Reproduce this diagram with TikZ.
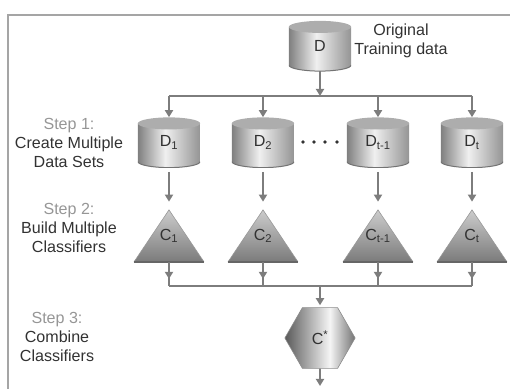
\documentclass[tikz,border=0pt]{standalone}
\usepackage{fontspec}
\setmainfont{Liberation Sans}
\usetikzlibrary{arrows.meta}
\usetikzlibrary{shapes.geometric}
\usetikzlibrary{decorations.markings}

\definecolor{linegray}{RGB}{125,125,125}
\definecolor{framegray}{RGB}{165,165,165}
\definecolor{textgray}{RGB}{50,50,50}
\definecolor{stepgray}{RGB}{150,150,150}

\pgfdeclarehorizontalshading{cylmetal}{100bp}{color(0bp)=(black!50); color(25bp)=(black!50); color(47bp)=(black!6); color(75bp)=(black!42); color(100bp)=(black!42)}
\pgfdeclarehorizontalshading{hexmetal}{100bp}{color(0bp)=(black!65); color(25bp)=(black!65); color(57bp)=(black!4); color(75bp)=(black!55); color(100bp)=(black!55)}

\tikzset{
	conn/.style = {color=linegray, line width=1.8pt},
	tip/.style = {-{Triangle[width=8pt,length=7pt]}},
	midtip/.style = {postaction={decorate}, decoration={markings, mark=at position 0.7 with {\arrow{Triangle[width=8pt,length=7pt]}}}},
	cyl/.style = {minimum width=62pt, minimum height=50pt, inner sep=0pt,
		path picture={
			\shade [shading=cylmetal] ([yshift=-6pt]path picture bounding box.north west) -- ([yshift=6pt]path picture bounding box.south west) arc [start angle=180, end angle=360, x radius=31pt, y radius=6pt] -- ([yshift=-6pt]path picture bounding box.north east) -- cycle;
			\draw [black!55, line width=1pt] ([yshift=6pt]path picture bounding box.south west) arc [start angle=180, end angle=360, x radius=31pt, y radius=6pt];
			\fill [black!32] ([yshift=-6pt]path picture bounding box.north) ellipse [x radius=31pt, y radius=6pt];
		}},
	tri/.style = {minimum width=70pt, minimum height=52pt, inner sep=0pt,
		path picture={
			\shade [top color=black!20, bottom color=black!52] (path picture bounding box.south west) -- (path picture bounding box.north) -- (path picture bounding box.south east) -- cycle;
			\draw [black!40, line width=0.6pt] (path picture bounding box.south west) -- (path picture bounding box.north) -- (path picture bounding box.south east);
			\draw [black!60, line width=1.4pt] (path picture bounding box.south west) -- (path picture bounding box.south east);
		}},
	hexa/.style = {regular polygon, regular polygon sides=6, minimum size=70pt, inner sep=0pt, shade, shading=hexmetal, draw=black!45, line width=0.6pt},
}

\begin{document}
\begin{tikzpicture}[x=0.35cm, y=0.35cm, font=\fontsize{16}{19}\selectfont, text=textgray]
	\useasboundingbox (0,0) rectangle (51,38.9);
	\draw [framegray, line width=1.2pt] (0.8,0) -- (0.8,37.4) -- (51,37.4);

	\node [cyl] (D) at (32,34.3) {D};
	\node [align=center] (orig) at (40.1,34.8) {Original\\Training data};

	\foreach \i/\x/\s in {1/16.9/1, 2/26.3/2, 3/37.8/{t-1}, 4/47.2/t}{
			\node [cyl] (d\i) at (\x,24.65) {D\textsubscript{\s}};
			\node [tri] (c\i) at (\x,15.3) {\raisebox{-6pt}{C\textsubscript{\s}}};
		}
	\node [hexa] (cstar) at (32,5.1) {C\textsuperscript{*}};

	\coordinate (split) at (32,29.3);
	\coordinate (join) at (32,10.3);
	\coordinate (out) at (32,0.3);

	\draw [conn, tip] (D.south) -- (split);
	\draw [conn] (split -| d1) -- (split -| d4);
	\foreach \i in {1,...,4}{
			\draw [conn, tip] (split -| d\i) -- (d\i.north);
			\draw [conn, tip, shorten <=4pt, shorten >=8pt] (d\i.south) -- (c\i.north);
			\draw [conn, midtip] (c\i.south) -- (join -| c\i);
		}
	\draw [conn] (join -| c1) -- (join -| c4);
	\draw [conn, tip, shorten >=2pt] (join) -- (cstar.north);
	\draw [conn, tip] (cstar.south) -- (out);

	\foreach \x in {30.3,31.4,32.5,33.7}{
			\fill [textgray] (\x,24.7) circle (1.8pt);
		}

	\node [align=center] (step1) at (6.9,24.6) {\textcolor{stepgray}{Step 1:}\\Create Multiple\\Data Sets};
	\node [align=center] (step2) at (6.9,16.1) {\textcolor{stepgray}{Step 2:}\\Build Multiple\\Classifiers};
	\node [align=center] (step3) at (5.7,5.2) {\textcolor{stepgray}{Step 3:}\\Combine\\Classifiers};
\end{tikzpicture}
\end{document}
